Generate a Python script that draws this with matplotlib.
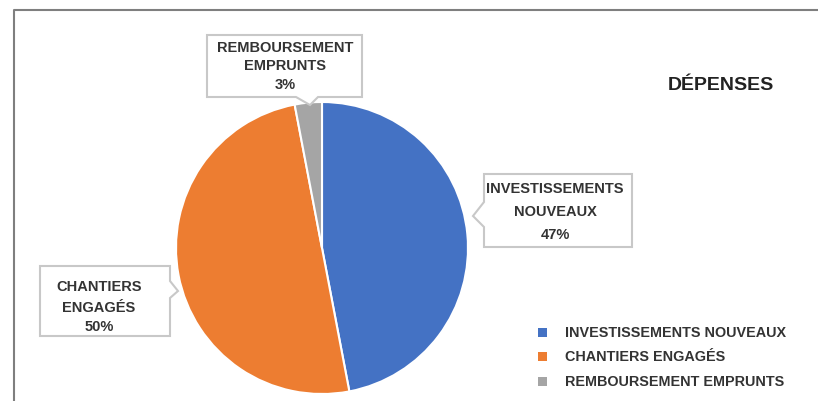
import matplotlib
matplotlib.use('Agg')
import matplotlib.pyplot as plt
from matplotlib.patches import Polygon, Rectangle

# ── data ──────────────────────────────────────────────────────────────────────
labels = ['INVESTISSEMENTS NOUVEAUX', 'CHANTIERS ENGAGÉS', 'REMBOURSEMENT EMPRUNTS']
callout_lines = [['INVESTISSEMENTS', 'NOUVEAUX'], ['CHANTIERS', 'ENGAGÉS'],
                 ['REMBOURSEMENT', 'EMPRUNTS']]
values = [47, 50, 3]
colors = ['#4472C4', '#ED7D31', '#A5A5A5']
title = 'DÉPENSES'

W, H = 818, 402
TXT = '#333333'
plt.rcParams['font.family'] = ['Liberation Sans', 'DejaVu Sans']

fig = plt.figure(figsize=(W / 100, H / 100), dpi=100)
ax = fig.add_axes([0, 0, 1, 1])


def Y(y):  # image pixel row -> axes y
    return H - y


ax.pie(values, colors=colors, startangle=90, counterclock=False,
       center=(322, Y(249)), radius=146,
       wedgeprops=dict(edgecolor='white', linewidth=1.5))
ax.set_xlim(0, W)
ax.set_ylim(0, H)
ax.set_aspect('equal')
ax.axis('off')

# outer frame (runs off right and bottom edges)
ax.plot([14, 14, W + 5], [Y(H + 5), Y(11), Y(11)], color='#7f7f7f', lw=1.5,
        clip_on=False)

# callout boxes: (x0, y0, x1, y1) in pixels, pointer (side, a, b, tip)
boxes = [
    ((484, 175, 632, 248), ('left', 203, 228, (473, 217)), 555, [189, 212, 235]),
    ((40, 267, 170, 337), ('right', 282, 299, (178, 292)), 99, [287, 308, 327]),
    ((207, 36, 362, 98), ('bottom', 296, 318, (310, 106)), 285, [48, 66, 85]),
]
for i, ((x0, y0, x1, y1), (side, a, b, tip), cx, ys) in enumerate(boxes):
    if side == 'left':
        pts = [(x0, y0), (x1, y0), (x1, y1), (x0, y1), (x0, b), tip, (x0, a)]
    elif side == 'right':
        pts = [(x0, y0), (x1, y0), (x1, a), tip, (x1, b), (x1, y1), (x0, y1)]
    else:
        pts = [(x0, y0), (x1, y0), (x1, y1), (b, y1), tip, (a, y1), (x0, y1)]
    pts = [(px, Y(py)) for px, py in pts]
    ax.add_patch(Polygon(pts, closed=True, facecolor='white',
                         edgecolor='#c8c8c8', lw=1.5, zorder=3))
    texts = callout_lines[i] + [f'{values[i]}%']
    for t, yy in zip(texts, ys):
        ax.text(cx, Y(yy), t, ha='center', va='center', fontsize=10.5,
                fontweight='bold', color=TXT, zorder=4)

# title
ax.text(721, Y(86), title, ha='center', va='center', fontsize=14,
        fontweight='bold', color='#222222')

# legend
for i, lab in enumerate(labels):
    yy = 333 + i * 24.5
    ax.add_patch(Rectangle((538, Y(yy) - 4.5), 9, 9, facecolor=colors[i],
                           edgecolor='none'))
    ax.text(565, Y(yy), lab, ha='left', va='center', fontsize=10.4,
            fontweight='bold', color=TXT)

fig.savefig('out.png', dpi=100)
